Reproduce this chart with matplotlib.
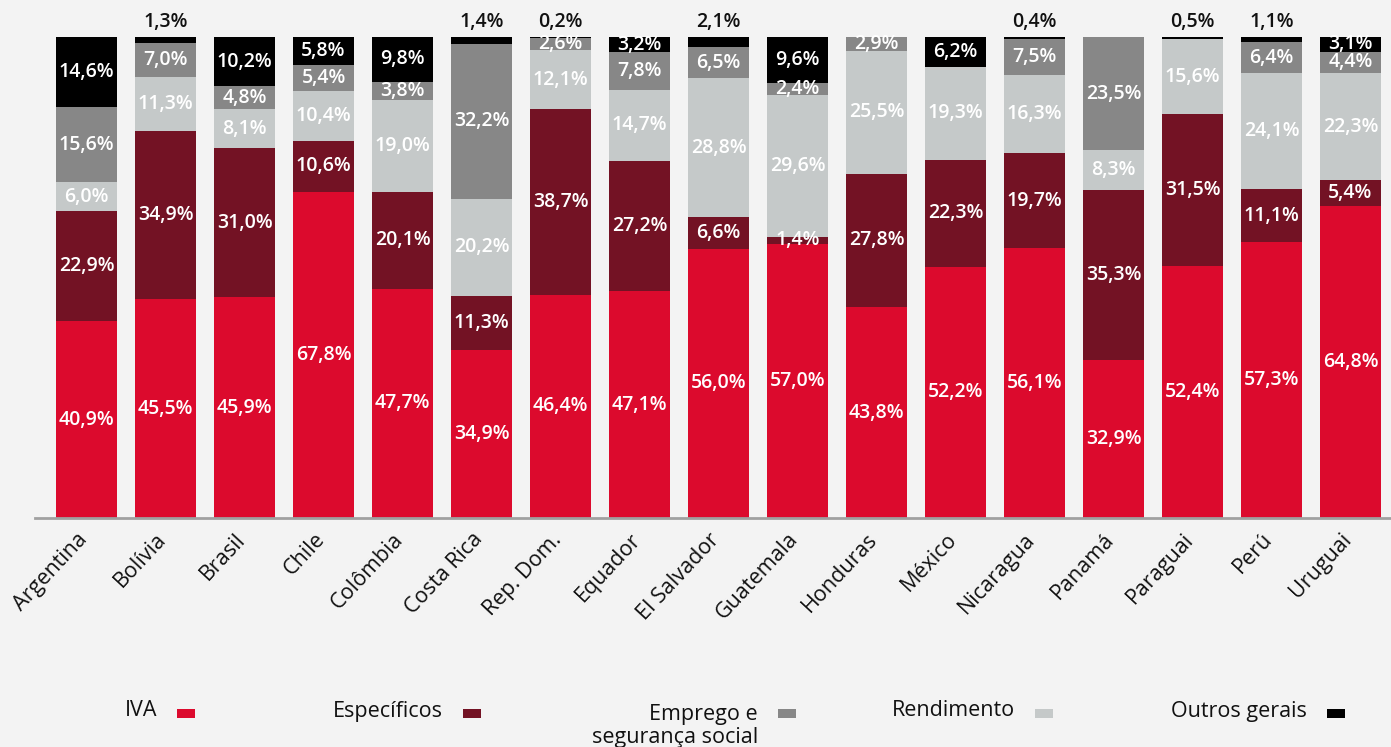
import matplotlib
matplotlib.use("Agg")
import matplotlib.pyplot as plt
from matplotlib.patches import Rectangle
from matplotlib.transforms import ScaledTranslation

plt.rcParams['font.family'] = ['Open Sans', 'DejaVu Sans']

countries = ["Argentina", "Bolívia", "Brasil", "Chile", "Colômbia", "Costa Rica",
             "Rep. Dom.", "Equador", "El Salvador", "Guatemala", "Honduras",
             "México", "Nicaragua", "Panamá", "Paraguai", "Perú", "Uruguai"]
iva = [40.9, 45.5, 45.9, 67.8, 47.7, 34.9, 46.4, 47.1, 56.0, 57.0, 43.8,
       52.2, 56.1, 32.9, 52.4, 57.3, 64.8]
especificos = [22.9, 34.9, 31.0, 10.6, 20.1, 11.3, 38.7, 27.2, 6.6, 1.4, 27.8,
               22.3, 19.7, 35.3, 31.5, 11.1, 5.4]
rendimento = [6.0, 11.3, 8.1, 10.4, 19.0, 20.2, 12.1, 14.7, 28.8, 29.6, 25.5,
              19.3, 16.3, 8.3, 15.6, 24.1, 22.3]
emprego = [15.6, 7.0, 4.8, 5.4, 3.8, 32.2, 2.6, 7.8, 6.5, 2.4, 2.9,
           0, 7.5, 23.5, 0, 6.4, 4.4]
outros = [14.6, 1.3, 10.2, 5.8, 9.8, 1.4, 0.2, 3.2, 2.1, 9.6, 0,
          6.2, 0.4, 0, 0.5, 1.1, 3.1]

# stacking order bottom -> top
series = [iva, especificos, rendimento, emprego, outros]
colors = ["#dc0a2d", "#731224", "#c5c9c9", "#878787", "#000000"]

# legend order and labels
leg_labels = ["IVA", "Específicos", "Emprego e\nsegurança social", "Rendimento", "Outros gerais"]
leg_colors = ["#dc0a2d", "#731224", "#878787", "#c5c9c9", "#000000"]
leg_x = [157, 443, 758, 1015, 1307]  # right end of text, px

W, H = 1391, 747
bg = "#f3f3f3"
fig = plt.figure(figsize=(W / 100, H / 100), dpi=100, facecolor=bg)
ax = fig.add_axes([35 / W, 1 - 518 / H, 1 - 35 / W, (518 - 37) / H])
ax.set_facecolor(bg)

x = list(range(len(countries)))
bottom = [0.0] * len(countries)
for vals, col in zip(series, colors):
    ax.bar(x, vals, width=0.77, bottom=bottom, color=col, linewidth=0)
    for i, v in enumerate(vals):
        if v <= 0:
            continue
        fmt = f"{v:.1f}".replace(".", ",") + "%"
        if col == "#000000" and v < 3:
            ax.text(i, 103.2, fmt, ha="center", va="center", fontsize=14,
                    color="#111111", fontweight="semibold", clip_on=False)
        else:
            ax.text(i, bottom[i] + v / 2, fmt, ha="center", va="center",
                    fontsize=14, color="white", fontweight="semibold")
    bottom = [b + v for b, v in zip(bottom, vals)]

ax.set_xlim(-0.652, 16.513)
ax.set_ylim(0, 100)
for s in ["top", "right", "left"]:
    ax.spines[s].set_visible(False)
ax.spines["bottom"].set_color("#a0a0a0")
ax.spines["bottom"].set_linewidth(2)
ax.set_yticks([])
ax.set_xticks(x)
ax.set_xticklabels(countries, rotation=47, ha="right", va="top",
                   rotation_mode="anchor", fontsize=15.5, color="#111111")
ax.tick_params(axis="x", length=0, pad=8)
offset = ScaledTranslation(-10 / 100, 0, fig.dpi_scale_trans)
for lbl in ax.get_xticklabels():
    lbl.set_transform(lbl.get_transform() + offset)

# legend: text to the left of a small swatch
for lab, col, xr in zip(leg_labels, leg_colors, leg_x):
    if "\n" in lab:
        fig.text(xr / W, 1 - 704 / H, lab, ha="right", va="top",
                 multialignment="right", fontsize=15.5, color="#111111",
                 linespacing=1.1)
    else:
        fig.text(xr / W, 1 - 711 / H, lab, ha="right", va="center",
                 fontsize=15.5, color="#111111")
    fig.add_artist(Rectangle(((xr + 20) / W, 1 - 718 / H), 18 / W, 9 / H,
                             transform=fig.transFigure, color=col, linewidth=0))

fig.savefig("out.png", dpi=100, facecolor=bg)
